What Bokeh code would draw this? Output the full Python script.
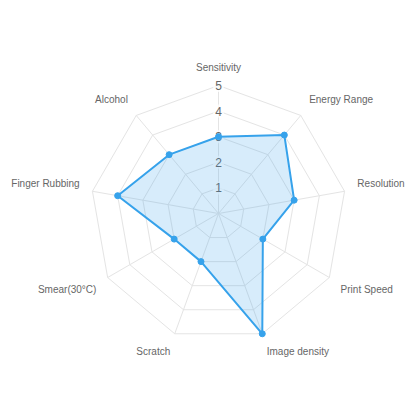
import math
from bokeh.plotting import figure
from bokeh.models import ColumnDataSource
from bokeh.core.properties import value
from bokeh.embed import file_html
from bokeh.resources import INLINE

categories = ["Sensitivity", "Energy Range", "Resolution", "Print Speed", "Image density",
              "Scratch", "Smear(30°C)", "Finger Rubbing", "Alcohol"]
scores = [3, 4, 3, 2, 5, 2, 2, 4, 3]
tick_values = [1, 2, 3, 4, 5]
max_value = 5

# layout (pixel units; 1 data unit = 1 px)
R = 128
LABEL_R = R + 13
W, H = 408, 408
CX, CY = 218, 213  # centre in plot pixels from left/top

line_color = "#36a2eb"
fill_color = "#36a2eb"
grid_color = "#e4e4e4"
text_color = "#666666"

p = figure(width=W, height=H, output_backend="svg", toolbar_location=None,
           x_range=(-CX, W - CX), y_range=(-(H - CY), CY),
           min_border=0, outline_line_color=None)
p.axis.visible = False
p.grid.visible = False
p.background_fill_color = "white"
p.border_fill_color = "white"

n = len(categories)
angles = [2 * math.pi * i / n for i in range(n)]


def pt(v, a):
    r = v / max_value * R
    return r * math.sin(a), r * math.cos(a)


# grid rings
xs, ys = [], []
for t in tick_values:
    ring = [pt(t, a) for a in angles] + [pt(t, angles[0])]
    xs.append([q[0] for q in ring])
    ys.append([q[1] for q in ring])
p.multi_line(xs, ys, line_color=grid_color, line_width=1)

# spokes
sx = [[0, pt(max_value, a)[0]] for a in angles]
sy = [[0, pt(max_value, a)[1]] for a in angles]
p.multi_line(sx, sy, line_color=grid_color, line_width=1)

# tick labels
tsrc = ColumnDataSource(dict(x=[0] * len(tick_values),
                             y=[t / max_value * R for t in tick_values],
                             t=[str(t) for t in tick_values]))
p.text("x", "y", text="t", source=tsrc, text_align="center", text_baseline="middle",
       text_font=value("Liberation Sans"), text_font_size="12px", text_color=text_color,
       background_fill_color="white", background_fill_alpha=0.75, padding=2)

# data
dpts = [pt(v, a) for v, a in zip(scores, angles)]
dx = [q[0] for q in dpts]
dy = [q[1] for q in dpts]
p.patch(dx, dy, fill_color=fill_color, fill_alpha=0.2, line_color=None)
p.line(dx + [dx[0]], dy + [dy[0]], line_color=line_color, line_width=2)
p.scatter(dx, dy, size=6, fill_color=line_color, line_color=line_color)

# category labels (Chart.js style alignment)
lx, ly, la, lb = [], [], [], []
for i, a in enumerate(angles):
    deg = round(math.degrees(a)) % 360
    lx.append(LABEL_R * math.sin(a))
    ly.append(LABEL_R * math.cos(a))
    if deg in (0, 180):
        la.append("center")
    elif deg < 180:
        la.append("left")
    else:
        la.append("right")
    if deg in (90, 270):
        lb.append("middle")
    elif deg < 90 or deg > 270:
        lb.append("bottom")
    else:
        lb.append("top")
lsrc = ColumnDataSource(dict(x=lx, y=ly, t=categories, a=la, b=lb))
p.text("x", "y", text="t", source=lsrc, text_align="a", text_baseline="b",
       text_font=value("Liberation Sans"), text_font_size="10px", text_color=text_color)

open("out.html", "w").write(file_html(p, INLINE))
